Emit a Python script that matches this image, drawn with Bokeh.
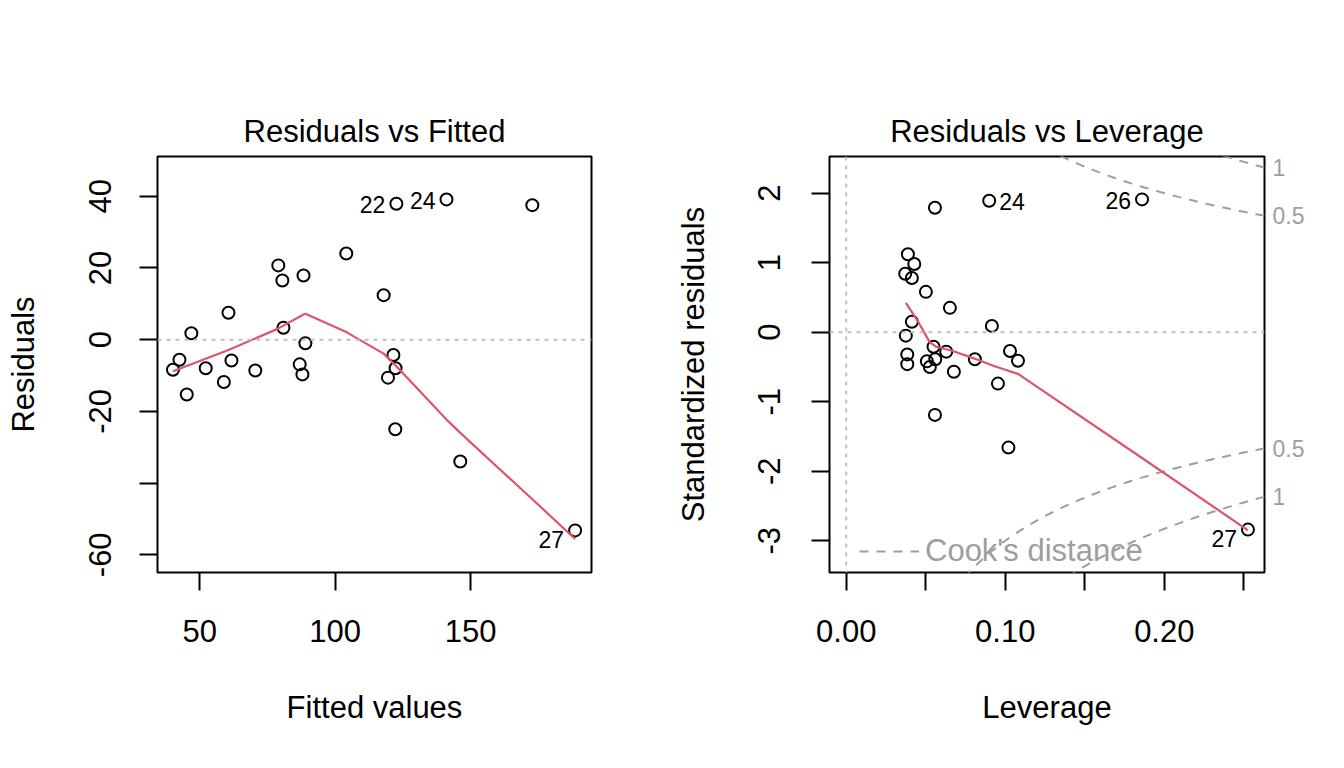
import numpy as np
from bokeh.plotting import figure
from bokeh.models import Range1d, FixedTicker, LinearAxis, Legend, LegendItem, Span
from bokeh.layouts import row
from bokeh.embed import file_html
from bokeh.resources import INLINE

# ---------------- data ----------------
fitted = [40.1, 42.5, 45.2, 46.9, 52.2, 58.9, 60.6, 61.7, 70.5, 79.0, 80.5, 80.9, 88.3, 89.0,
          86.9, 87.9, 104.1, 117.9, 121.5, 122.3, 119.5, 122.2, 122.6, 141.1, 172.8, 146.2, 188.6]
resid = [-8.4, -5.6, -15.3, 1.8, -8.0, -11.8, 7.5, -5.8, -8.6, 20.7, 16.5, 3.3, 17.9, -1.0,
         -6.9, -9.7, 24.0, 12.4, -4.3, -8.0, -10.6, -25.0, 37.9, 39.1, 37.5, -34.0, -53.2]
fit_label_idx = [22, 23, 26]
fit_labels = ["22", "24", "27"]

smooth_fit_x = [40.1, 60.6, 78.7, 88.3, 89.0, 104.1, 117.9, 122.6, 141.1, 146.2, 172.8, 188.6]
smooth_fit_y = [-8.8, -2.9, 3.0, 7.0, 7.2, 2.1, -3.9, -7.4, -22.3, -26.0, -44.5, -55.6]

leverage = [0.0558, 0.0899, 0.186, 0.0388, 0.0428, 0.0371, 0.0413, 0.0501, 0.0652, 0.0413,
            0.0916, 0.0375, 0.0549, 0.0629, 0.0384, 0.0560, 0.0507, 0.0384, 0.0526, 0.0677,
            0.0809, 0.103, 0.108, 0.0954, 0.0558, 0.102, 0.2526]
std_resid = [1.79, 1.89, 1.91, 1.12, 0.98, 0.84, 0.78, 0.58, 0.35, 0.15, 0.09, -0.05, -0.21,
             -0.28, -0.32, -0.39, -0.42, -0.46, -0.50, -0.57, -0.39, -0.27, -0.41, -0.74,
             -1.19, -1.66, -2.84]
lev_label_idx = [1, 2, 26]
lev_labels = ["24", "26", "27"]

smooth_lev_x = [0.0375, 0.045, 0.0524, 0.0566, 0.0671, 0.0807, 0.0933, 0.108, 0.186, 0.2526]
smooth_lev_y = [0.42, 0.16, -0.14, -0.21, -0.27, -0.38, -0.49, -0.60, -1.81, -2.85]

n_params = 2
cook_levels = [0.5, 1.0]
cook_level_labels = ["0.5", "1"]

fit_xticks = [50, 100, 150]
fit_yticks = [-60, -40, -20, 0, 20, 40]
fit_ytick_labels = ["-60", "", "-20", "0", "20", "40"]
lev_xticks = [0.0, 0.05, 0.10, 0.15, 0.20, 0.25]
lev_xtick_labels = ["0.00", "", "0.10", "", "0.20", ""]
lev_yticks = [-3, -2, -1, 0, 1, 2]
lev_ytick_labels = ["-3", "-2", "-1", "0", "1", "2"]

# ---------------- style ----------------
FONT = "Liberation Sans"
FS = "31px"
ID_FS = "23px"
RED = "#DF536B"
ZERO_GRAY = "#BEBEBE"
COOK_GRAY = "#9E9E9E"


def base_style(p):
    p.outline_line_color = "black"
    p.outline_line_width = 2
    p.grid.visible = False
    p.background_fill_color = "white"
    p.border_fill_color = "white"
    p.title.text_font = FONT
    p.title.text_font_size = FS
    p.title.text_font_style = "normal"
    p.title.text_color = "black"
    p.title.align = "center"
    p.title.standoff = 15
    for ax in p.axis:
        ax.axis_line_color = None
        ax.major_tick_out = 18
        ax.major_tick_in = 0
        ax.major_tick_line_width = 2
        ax.major_tick_line_color = "black"
        ax.minor_tick_line_color = None
        ax.major_label_text_font = FONT
        ax.major_label_text_font_size = FS
        ax.major_label_text_color = "black"
        ax.axis_label_text_font = FONT
        ax.axis_label_text_font_size = FS
        ax.axis_label_text_font_style = "normal"
        ax.axis_label_text_color = "black"
    p.yaxis.major_label_orientation = "vertical"
    p.xaxis.major_label_standoff = 29
    p.xaxis.axis_label_standoff = 45


# ---------------- left: Residuals vs Fitted ----------------
p1 = figure(frame_width=434, frame_height=416,
            min_border_left=157, min_border_right=81,
            min_border_top=156, min_border_bottom=194,
            x_range=Range1d(34.39, 194.65), y_range=Range1d(-64.94, 51.07),
            output_backend="svg", toolbar_location=None,
            title="Residuals vs Fitted",
            x_axis_label="Fitted values", y_axis_label="Residuals")
base_style(p1)
p1.xaxis.ticker = FixedTicker(ticks=fit_xticks)
p1.yaxis.ticker = FixedTicker(ticks=fit_yticks)
p1.yaxis.major_label_overrides = {t: l for t, l in zip(fit_yticks, fit_ytick_labels)}
p1.yaxis.major_label_standoff = 28
p1.yaxis.axis_label_standoff = 46

p1.add_layout(Span(location=0, dimension="width", line_color=ZERO_GRAY,
                   line_dash="4 5", line_width=2))
p1.scatter(fitted, resid, marker="circle", size=12, fill_color=None,
           line_color="black", line_width=2)
p1.line(smooth_fit_x, smooth_fit_y, line_color=RED, line_width=2.2)

lx = [fitted[i] for i in fit_label_idx]
ly = [resid[i] for i in fit_label_idx]
loff = [9 if resid[i] < 0 else 1 for i in fit_label_idx]
p1.text(lx, ly, text=fit_labels, text_align="right", text_baseline="middle",
        x_offset=-11, y_offset=loff, text_font_size=ID_FS, text_color="black",
        text_font={"value": FONT})

# ---------------- right: Residuals vs Leverage ----------------
x_lo, x_hi = -0.0105, 0.263
p2 = figure(frame_width=435, frame_height=416,
            min_border_left=156, min_border_right=79,
            min_border_top=156, min_border_bottom=194,
            x_range=Range1d(x_lo, x_hi), y_range=Range1d(-3.457, 2.527),
            output_backend="svg", toolbar_location=None,
            title="Residuals vs Leverage",
            x_axis_label="Leverage", y_axis_label="Standardized residuals")
base_style(p2)
p2.xaxis.ticker = FixedTicker(ticks=lev_xticks)
p2.xaxis.major_label_overrides = {t: l for t, l in zip(lev_xticks, lev_xtick_labels)}
p2.yaxis.ticker = FixedTicker(ticks=lev_yticks)
p2.yaxis.major_label_overrides = {t: l for t, l in zip(lev_yticks, lev_ytick_labels)}
p2.yaxis.major_label_standoff = 31
p2.yaxis.axis_label_standoff = 45

p2.add_layout(Span(location=0, dimension="width", line_color=ZERO_GRAY,
                   line_dash="4 5", line_width=2))
p2.add_layout(Span(location=0, dimension="height", line_color=ZERO_GRAY,
                   line_dash="4 5", line_width=2))

# Cook's distance contours: r = +/- sqrt(c * p * (1 - h) / h)
hh = np.linspace(max(leverage) / 100, x_hi, 101)
cook_renderers = []
for c in cook_levels:
    ch = np.sqrt(c * n_params * (1 - hh) / hh)
    for sgn in (1, -1):
        r = p2.line(hh, sgn * ch, line_color=COOK_GRAY, line_dash="9 8", line_width=2)
        cook_renderers.append(r)

p2.scatter(leverage, std_resid, marker="circle", size=12, fill_color=None,
           line_color="black", line_width=2)
p2.line(smooth_lev_x, smooth_lev_y, line_color=RED, line_width=2.2)

mid = (min(leverage) + max(leverage)) / 2
for i, lab in zip(lev_label_idx, lev_labels):
    right_side = leverage[i] < mid
    p2.text([leverage[i]], [std_resid[i]], text=[lab],
            text_align="left" if right_side else "right", text_baseline="middle",
            x_offset=10 if right_side else -11,
            y_offset=9 if std_resid[i] < 0 else 1,
            text_font_size=ID_FS, text_color="black", text_font={"value": FONT})

# Cook's level labels on the right margin
ymult = np.sqrt(n_params * (1 - x_hi) / x_hi)
aty = [round(float(np.sqrt(c) * ymult), 4) for c in cook_levels]
cticks = [-a for a in aty] + aty
clabels = cook_level_labels + cook_level_labels
cook_axis = LinearAxis(ticker=FixedTicker(ticks=cticks),
                       major_label_overrides={t: l for t, l in zip(cticks, clabels)})
cook_axis.axis_line_color = None
cook_axis.major_tick_line_color = None
cook_axis.minor_tick_line_color = None
cook_axis.major_tick_out = 0
cook_axis.major_tick_in = 0
cook_axis.major_label_standoff = 8
cook_axis.major_label_text_font = FONT
cook_axis.major_label_text_font_size = ID_FS
cook_axis.major_label_text_color = COOK_GRAY
p2.add_layout(cook_axis, "right")

legend = Legend(items=[LegendItem(label="Cook's distance", renderers=[cook_renderers[0]])],
                location=(30, 3), glyph_width=60, glyph_height=30, label_standoff=6,
                padding=0, margin=0, spacing=0,
                label_text_font=FONT, label_text_font_size=FS,
                label_text_color=COOK_GRAY,
                background_fill_alpha=0, border_line_alpha=0)
p2.add_layout(legend)

layout = row(p1, p2)
open("out.html", "w").write(file_html(layout, INLINE))
